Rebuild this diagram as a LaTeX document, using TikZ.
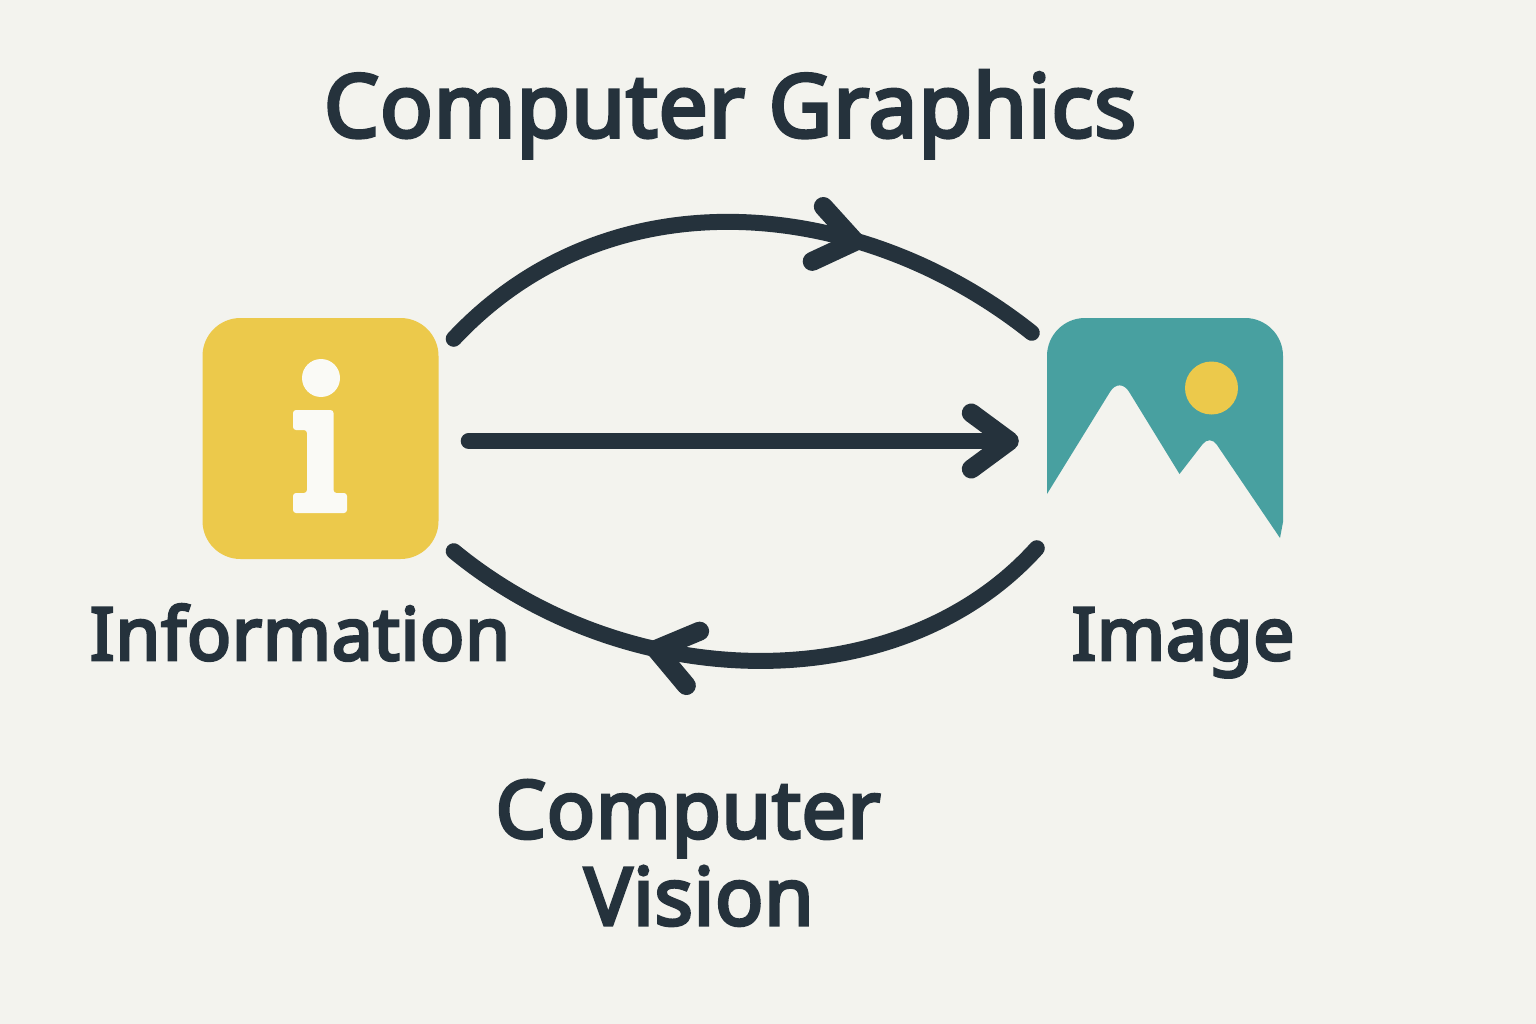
\documentclass[tikz,border=0pt]{standalone}
\usepackage{fontspec}
\setmainfont{Noto Sans}[AutoFakeBold=4, LetterSpace=1]
\usetikzlibrary{
  arrows.meta, decorations.markings
}
\definecolor{colPaper}  {HTML}{F3F3EE}
\definecolor{colInk}    {HTML}{25323C}
\definecolor{colGold}   {HTML}{ECC94B}
\definecolor{colTeal}   {HTML}{48A0A0}
\definecolor{colWhite}  {HTML}{FAFAF6}
\tikzset{
  iconbox/.style={
    rectangle, inner sep=0pt, minimum width=236pt, minimum height=241pt
  },
  infobox/.style ={iconbox, fill=colGold, rounded corners=38pt},
  imgbox/.style  ={iconbox},
  imgfill/.style ={fill=colTeal},
  dotmark/.style ={circle, inner sep=0pt, minimum size=38pt, fill=colWhite},
  sunmark/.style ={circle, inner sep=0pt, minimum size=53pt, fill=colGold},
  bigtext/.style ={
    anchor=base, align=center, text=colInk,
    font=\fontsize{#1}{87}\selectfont\bfseries
  },
  % Connectors share one stroke; the arcs carry their head part way along
  flowarr/.style ={
    line width=16pt, draw=colInk, line cap=round
  },
  mainarr/.style ={
    flowarr, -{Straight Barb[length=38pt,width=56pt,round,line width=3pt 1]}
  },
  midarr/.style 2 args={
    flowarr, postaction={decorate},
    decoration={markings, mark=at position #1 with
      {\pgftransformrotate{#2}\arrow{Straight Barb[length=38pt,width=56pt,round,line width=3pt 1]}}}
  }
}
\begin{document}
\begin{tikzpicture}[x=1pt, y=-1pt]
  \fill[colPaper] (0,0) rectangle (1536,1024);
  \useasboundingbox (0,0) rectangle (1536,1024);

  % Information icon
  \node[infobox] (info) at (320.5,438.5) {};
  \node[dotmark] (infodot) at (321,378) {};
  \fill[colWhite, rounded corners=3pt] (293,410) -- (333.5,410) -- (333.5,493)
    -- (347,493) -- (347,513) -- (293,513) -- (293,493) -- (307,493)
    -- (307,430) -- (293,430) -- cycle;

  % Image icon
  \node[imgbox] (imag) at (1165,438.5) {};
  \fill[imgfill] (1047,494) [rounded corners=38pt] -- (1047,318) -- (1283,318)
    [rounded corners=0pt] -- (1283,522) -- (1280,538) -- (1217,445)
    [rounded corners=12pt] -- (1210,434.6) [rounded corners=0pt] -- (1179.5,474)
    [rounded corners=18pt] -- (1119.6,376.4) [rounded corners=0pt] -- cycle;
  \node[sunmark] (sun) at (1211.5,388) {};

  % Labels
  \node[bigtext=87.5] (title)  at (730,137)  {Computer Graphics};
  \node[bigtext=73] (lblinfo) at (300,660) {Information};
  \node[bigtext=73] (lblimag) at (1183,660) {Image};
  \node[bigtext=80] (lblcv)  at (688,925)  {Computer\\\hspace*{22pt}Vision};

  % Connectors
  \draw[midarr={0.70}{6}] ([shift={(15,21)}]info.north east)
    .. controls (610,172) and (860,196) .. ([shift={(-15,15)}]imag.north west);
  \draw[mainarr, shorten <=30pt, shorten >=28pt]
    ([yshift=-2.5pt]info.east) -- ([yshift=-2.5pt]imag.west);
  \draw[midarr={0.66}{0}] ([shift={(-10,-11)}]imag.south west)
    .. controls (900,700) and (630,696) .. ([shift={(15,-8)}]info.south east);
\end{tikzpicture}
\end{document}
